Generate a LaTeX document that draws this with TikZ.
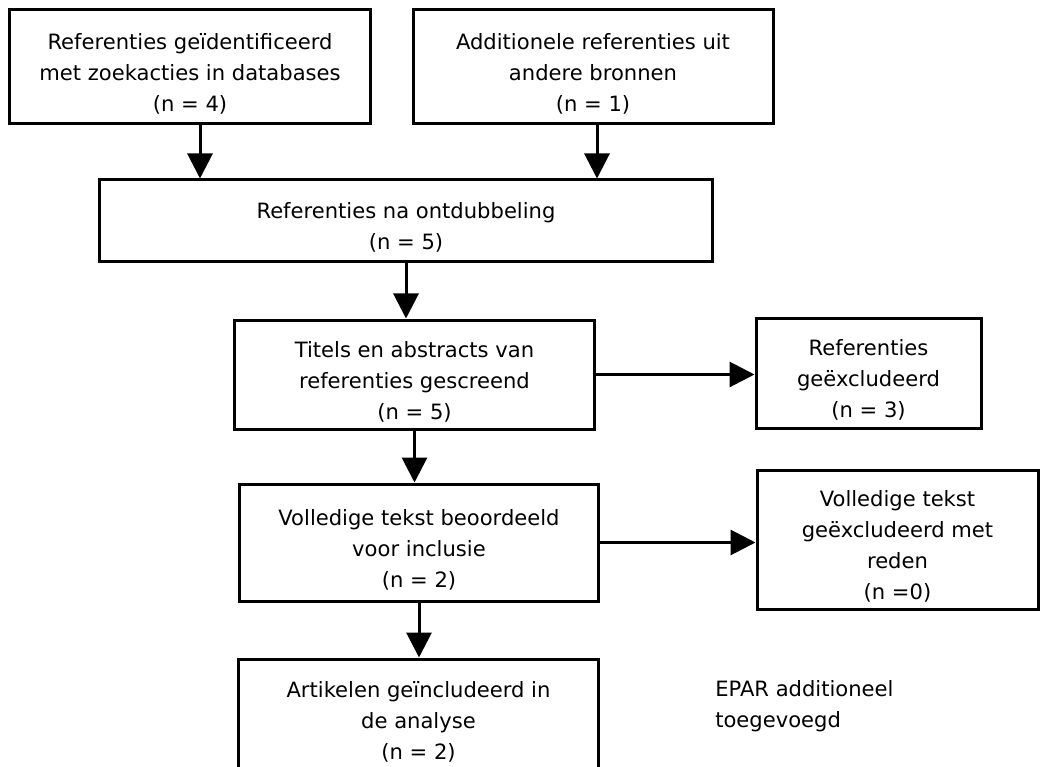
\documentclass[tikz,border=0pt]{standalone}
\usepackage{fontspec}
\setmainfont{DejaVu Sans}
\usetikzlibrary{arrows.meta,positioning}
\newcommand{\toppad}{\rule{0pt}{7.6mm}}

\begin{document}
\begin{tikzpicture}[x=0.25mm, y=-0.25mm,
    every node/.style={font=\fontsize{15pt}{22pt}\selectfont},
    box/.style={draw, line width=0.75mm, align=center, inner sep=0pt},
    arr/.style={line width=0.75mm, -{Triangle[length=6.25mm,width=6.25mm]}}]
    \clip (0,0) rectangle (1041,767);
    % Sources
    \node[box, minimum width=90mm, minimum height=28.25mm] (refdb) at (190,66.5)
      {\toppad Referenties geïdentificeerd\\met zoekacties in databases\\(n = 4)};
    \node[box, minimum width=90mm, minimum height=28.25mm] (refother) at (593,66.5)
      {\toppad Additionele referenties uit\\andere bronnen\\(n = 1)};
    % Main column
    \node[box, minimum width=153mm, minimum height=20.25mm] (dedup) at (406,220.5)
      {\toppad Referenties na ontdubbeling\\(n = 5)};
    \node[box, minimum width=89.75mm, minimum height=27.25mm] (screen) at (414.5,374.5)
      {\toppad Titels en abstracts van\\referenties gescreend\\(n = 5)};
    \node[box, minimum width=89.5mm, minimum height=29.25mm] (fulltext) at (419,542.5)
      {\toppad Volledige tekst beoordeeld\\voor inclusie\\(n = 2)};
    \node[box, minimum width=89.75mm, minimum height=28mm] (incl) at (418.5,715)
      {\toppad Artikelen geïncludeerd in\\de analyse\\(n = 2)};
    % Exclusions
    \node[box, minimum width=56.25mm, minimum height=27.5mm] (excl) at (868.5,373)
      {\toppad Referenties\\geëxcludeerd\\(n = 3)};
    \node[box, minimum width=70.25mm, minimum height=34.75mm] (exclft) at (897.5,539.5)
      {\toppad Volledige tekst\\geëxcludeerd met\\reden\\(n =0)};
    % Note
    \node[anchor=west, align=left, inner sep=0pt] (epar) at (715,706)
      {EPAR additioneel\\toegevoegd};
    % Arrows
    \draw[arr] ([xshift=2.5mm]refdb.south) -- ([xshift=2.5mm]refdb.south |- dedup.north);
    \draw[arr] ([xshift=1mm]refother.south) -- ([xshift=1mm]refother.south |- dedup.north);
    \draw[arr] (dedup.south) -- (dedup.south |- screen.north);
    \draw[arr] (screen.south) -- (screen.south |- fulltext.north);
    \draw[arr] (fulltext.south) -- (fulltext.south |- incl.north);
    \draw[arr] (screen.east) -- (screen.east -| excl.west);
    \draw[arr] (fulltext.east) -- (fulltext.east -| exclft.west);
\end{tikzpicture}
\end{document}
